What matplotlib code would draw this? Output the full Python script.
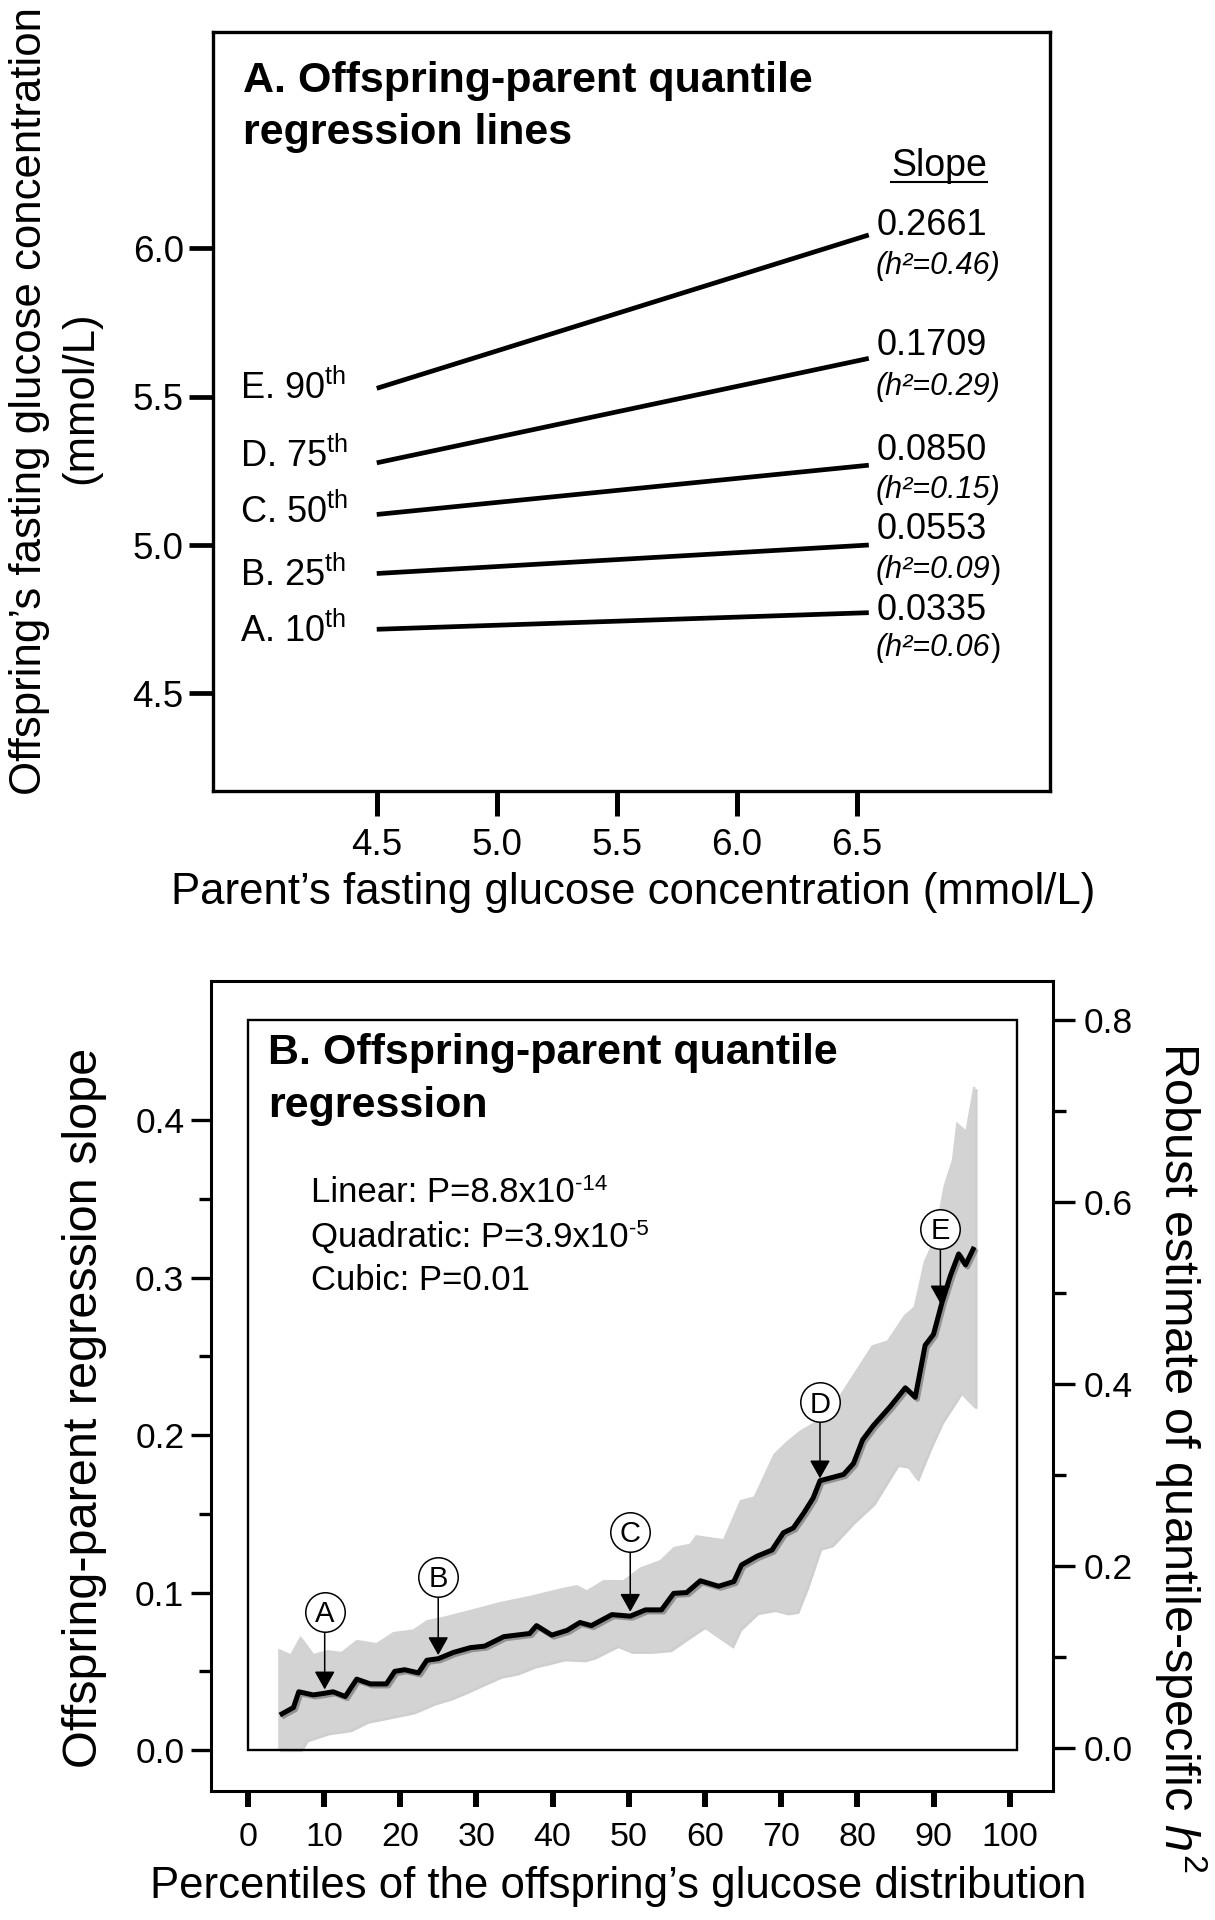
import matplotlib
matplotlib.use('Agg')
import matplotlib.pyplot as plt
import matplotlib.patheffects as pe
from matplotlib.patches import Rectangle
from matplotlib.lines import Line2D
from matplotlib.ticker import FormatStrFormatter
import numpy as np

plt.rcParams['font.family'] = ['Liberation Sans', 'DejaVu Sans']
plt.rcParams['mathtext.fontset'] = 'custom'
plt.rcParams['mathtext.rm'] = 'Liberation Sans'
plt.rcParams['mathtext.it'] = 'Liberation Sans:italic'
plt.rcParams['mathtext.bf'] = 'Liberation Sans:bold'

# ---- panel A: quantile regression lines ----
parent_start = 4.5
parent_end = 6.55
quantile_names = ['A. 10', 'B. 25', 'C. 50', 'D. 75', 'E. 90']
offspring_start = [4.716, 4.904, 5.103, 5.277, 5.528]
offspring_end = [4.772, 5.000, 5.269, 5.629, 6.045]
slope_text = ['0.0335', '0.0553', '0.0850', '0.1709', '0.2661']
h2_text = ['0.06', '0.09', '0.15', '0.29', '0.46']

# ---- panel B: slope by percentile ----
line_pct = [4.5, 6.0, 6.7, 8.6, 10.0, 11.2, 12.8, 14.3, 16.1, 18.2, 19.3, 20.6,
            22.4, 23.5, 25.0, 27.0, 29.2, 31.1, 33.6, 37.0, 37.9, 39.9, 41.9,
            43.6, 45.1, 47.8, 50.2, 52.2, 54.3, 55.9, 57.6, 59.4, 61.8, 63.8,
            64.8, 66.8, 68.8, 70.3, 71.6, 72.9, 74.2, 75.1, 78.2, 79.5, 80.7,
            82.1, 84.3, 86.3, 87.6, 88.9, 90.0, 91.1, 92.2, 93.3, 94.2, 95.2]
line_slope = [0.023, 0.027, 0.037, 0.035, 0.036, 0.037, 0.034, 0.045, 0.042,
              0.042, 0.050, 0.051, 0.049, 0.057, 0.058, 0.062, 0.065, 0.066,
              0.072, 0.074, 0.079, 0.073, 0.076, 0.081, 0.079, 0.086, 0.085,
              0.089, 0.089, 0.0995, 0.100, 0.1075, 0.104, 0.107, 0.1175, 0.123,
              0.127, 0.138, 0.141, 0.150, 0.160, 0.171, 0.175, 0.182, 0.197,
              0.206, 0.218, 0.230, 0.224, 0.257, 0.264, 0.284, 0.301, 0.315,
              0.308, 0.318]

upper_pct = [4.0, 5.6, 6.9, 8.6, 10.4, 12.3, 14.3, 16.9, 19.1, 21.7, 23.5, 25.7,
             29.2, 33.1, 37.1, 41.0, 43.2, 44.5, 46.7, 49.3, 51.5, 54.1, 55.9,
             58.0, 58.8, 62.4, 64.6, 66.4, 69.0, 70.7, 72.5, 76.0, 79.5, 81.9,
             83.9, 86.1, 87.4, 88.7, 90.0, 91.3, 92.4, 93.0, 94.2, 95.2, 95.5]
upper_slope = [0.0645, 0.061, 0.0724, 0.061, 0.0635, 0.0624, 0.070, 0.068, 0.075,
               0.0766, 0.0825, 0.0847, 0.089, 0.094, 0.098, 0.1026, 0.1048,
               0.1016, 0.108, 0.108, 0.116, 0.1206, 0.129, 0.131, 0.1365, 0.134,
               0.1587, 0.161, 0.188, 0.196, 0.203, 0.2127, 0.239, 0.257, 0.260,
               0.276, 0.2815, 0.310, 0.324, 0.358, 0.3746, 0.399, 0.3937, 0.421,
               0.421]
lower_pct = [4.0, 6.9, 7.7, 10.4, 13.4, 15.6, 18.7, 21.7, 24.4, 26.6, 28.7, 30.5,
             33.1, 35.3, 37.5, 39.7, 41.4, 44.1, 45.4, 48.4, 50.2, 52.8, 55.4,
             57.6, 59.8, 63.5, 64.6, 66.8, 69.0, 70.7, 72.1, 73.4, 75.1, 76.6,
             79.5, 82.1, 85.2, 86.5, 87.8, 89.6, 91.1, 93.5, 95.2, 95.5]
lower_slope = [0.0, 0.0, 0.0063, 0.0106, 0.0127, 0.018, 0.021, 0.024, 0.0296,
               0.0328, 0.037, 0.041, 0.0466, 0.0487, 0.053, 0.0555, 0.0576, 0.057,
               0.0588, 0.066, 0.0624, 0.0624, 0.0635, 0.0709, 0.078, 0.0656,
               0.077, 0.087, 0.0889, 0.0868, 0.0878, 0.1037, 0.128, 0.130, 0.145,
               0.1566, 0.181, 0.180, 0.1714, 0.1926, 0.2085, 0.2265, 0.218, 0.218]

marker_letters = ['A', 'B', 'C', 'D', 'E']
marker_pct = [10.1, 25.0, 50.2, 75.1, 90.9]
marker_circle = [0.0878, 0.110, 0.1386, 0.221, 0.331]
marker_tip = [0.0385, 0.0603, 0.0878, 0.1725, 0.2836]

p_text = ['Linear: P=8.8x10', 'Quadratic: P=3.9x10', 'Cubic: P=0.01']
p_power = ['-14', '-5', '']

W, H = 1215, 1920


def fx(px):
    return px / W


def fy(py):
    return 1 - py / H


def box(left, top, right, bottom):
    return [left / W, 1 - bottom / H, (right - left) / W, (bottom - top) / H]


fig = plt.figure(figsize=(W / 100, H / 100), dpi=100)

# ================= panel A =================
axA = fig.add_axes(box(213.3, 31.7, 1050, 790.7))
axA.set_xlim(3.819, 7.305)
axA.set_ylim(4.172, 6.730)
for sp in axA.spines.values():
    sp.set_linewidth(2.4)
axA.set_xticks([4.5, 5.0, 5.5, 6.0, 6.5])
axA.set_yticks([4.5, 5.0, 5.5, 6.0])
axA.xaxis.set_major_formatter(FormatStrFormatter('%.1f'))
axA.yaxis.set_major_formatter(FormatStrFormatter('%.1f'))
axA.tick_params(axis='both', direction='out', labelsize=26.5)
axA.tick_params(axis='x', length=18, width=3.6, pad=8.6)
axA.tick_params(axis='y', length=17, width=3.4, pad=4.3)

for i in range(len(quantile_names)):
    axA.plot([parent_start, parent_end], [offspring_start[i], offspring_end[i]],
             color='black', lw=3.4, solid_capstyle='butt')

name_base = [641.7, 586, 522.7, 466.7, 399]
slope_base = [620, 539.3, 460, 355, 235]
h2_base = [656, 578.3, 498.3, 395, 274]
for i in range(len(quantile_names)):
    fig.text(fx(240), fy(name_base[i]), quantile_names[i] + '$^{\\mathrm{th}}$',
             fontsize=26, va='baseline', ha='left')
    fig.text(fx(876.7), fy(slope_base[i]), slope_text[i], fontsize=26,
             va='baseline', ha='left')
    if i < 2:
        t = fig.text(fx(875.7), fy(h2_base[i]), '(h\u00b2=' + h2_text[i],
                     fontsize=22, style='italic', va='baseline', ha='left')
        axA.annotate(')', xy=(1, 0), xycoords=t, va='bottom', ha='left',
                     fontsize=22, annotation_clip=False)
    else:
        fig.text(fx(875.7), fy(h2_base[i]), '(h\u00b2=' + h2_text[i] + ')',
                 fontsize=22, style='italic', va='baseline', ha='left')

fig.text(fx(939), fy(176), 'Slope', fontsize=27, ha='center', va='baseline')
fig.add_artist(Line2D([fx(891), fx(987)], [fy(182), fy(182)], color='black',
                      lw=1.5, transform=fig.transFigure))

fig.text(fx(243.3), fy(91.7), 'A. Offspring-parent quantile', fontsize=31,
         weight='bold', va='baseline')
fig.text(fx(243.3), fy(144), 'regression lines', fontsize=31, weight='bold',
         va='baseline')

fig.text(fx(30), fy(401), 'Offspring\u2019s fasting glucose concentration',
         rotation=90, ha='center', va='center', fontsize=31.5)
fig.text(fx(81), fy(398), '(mmol/L)', rotation=90, ha='center', va='center',
         fontsize=31.5)
fig.text(fx(633), fy(904), 'Parent\u2019s fasting glucose concentration (mmol/L)',
         ha='center', va='baseline', fontsize=31.5)

# ================= panel B =================
axB = fig.add_axes(box(211, 981, 1053, 1791))
axB.set_xlim(-4.82, 105.68)
axB.set_ylim(-0.026, 0.4883)
for sp in axB.spines.values():
    sp.set_linewidth(2.2)
axB.set_xticks(np.arange(0, 101, 10))
axB.set_yticks([0.0, 0.1, 0.2, 0.3, 0.4])
axB.set_yticks([0.05, 0.15, 0.25, 0.35], minor=True)
axB.yaxis.set_major_formatter(FormatStrFormatter('%.1f'))
axB.tick_params(axis='x', direction='out', length=11.5, width=4.3, pad=11,
                labelsize=24.5)
axB.tick_params(axis='y', which='major', direction='out', length=14.4,
                width=2.4, pad=4.8, labelsize=25.5)
axB.tick_params(axis='y', which='minor', direction='out', length=8.6, width=2.4)

axR = axB.twinx()
axR.set_ylim(-0.0473, 0.8429)
for sp in axR.spines.values():
    sp.set_visible(False)
axR.set_yticks([0.0, 0.2, 0.4, 0.6, 0.8])
axR.set_yticks([0.1, 0.3, 0.5, 0.7], minor=True)
axR.yaxis.set_major_formatter(FormatStrFormatter('%.1f'))
axR.tick_params(axis='y', which='major', direction='out', length=16, width=2.4,
                pad=5.8, labelsize=25.5)
axR.tick_params(axis='y', which='minor', direction='out', length=9.4, width=2.4)

band_x = np.r_[upper_pct, lower_pct[::-1]]
band_y = np.r_[upper_slope, lower_slope[::-1]]
axB.fill(band_x, band_y, color='#d3d3d3', lw=0, zorder=1,
         path_effects=[pe.SimplePatchShadow(offset=(1.5, -1.5),
                                            shadow_rgbFace='0.45', alpha=0.35),
                       pe.Normal()])
axB.add_patch(Rectangle((0.08, 0), 100.82, 0.4635, fill=False, lw=1.7,
                        ec='black', zorder=3))
axB.plot(line_pct, line_slope, color='black', lw=3.6, zorder=4,
         path_effects=[pe.SimpleLineShadow(offset=(1.5, -1.5), alpha=0.3),
                       pe.Normal()])

for i in range(len(marker_letters)):
    axB.annotate('', xy=(marker_pct[i], marker_tip[i]),
                 xytext=(marker_pct[i], marker_circle[i]),
                 arrowprops=dict(arrowstyle='-|>,head_length=0.8,head_width=0.45',
                                 mutation_scale=14, lw=1.1, color='black',
                                 shrinkA=14.2, shrinkB=0), zorder=5)
axB.plot(marker_pct, marker_circle, 'o', ms=28.4, mfc='white', mec='black',
         mew=1.1, zorder=6)
for i in range(len(marker_letters)):
    axB.annotate(marker_letters[i], xy=(marker_pct[i], marker_circle[i]),
                 xytext=(0, -7.6), textcoords='offset points', ha='center',
                 va='baseline', fontsize=21, zorder=7)

fig.text(fx(268.3), fy(1064), 'B. Offspring-parent quantile', fontsize=31,
         weight='bold', va='baseline')
fig.text(fx(268.3), fy(1116.7), 'regression', fontsize=31, weight='bold',
         va='baseline')
p_base = [1201.7, 1246.7, 1290]
for i in range(len(p_text)):
    t = fig.text(fx(310.7), fy(p_base[i]), p_text[i], fontsize=25,
                 va='baseline')
    if p_power[i]:
        axB.annotate(p_power[i], xy=(1, 1), xycoords=t, xytext=(0.5, 1),
                     textcoords='offset points', va='top', ha='left',
                     fontsize=16, annotation_clip=False)

fig.text(fx(85), fy(1408), 'Offspring-parent regression slope', rotation=90,
         ha='center', va='center', fontsize=35)
fig.text(fx(618), fy(1898), 'Percentiles of the offspring\u2019s glucose distribution',
         ha='center', va='baseline', fontsize=31.5)
fig.text(fx(1181), fy(1457), 'Robust estimate of quantile-specific $h^{2}$',
         rotation=270, ha='center', va='center', fontsize=35)

fig.savefig('out.png', dpi=100)
